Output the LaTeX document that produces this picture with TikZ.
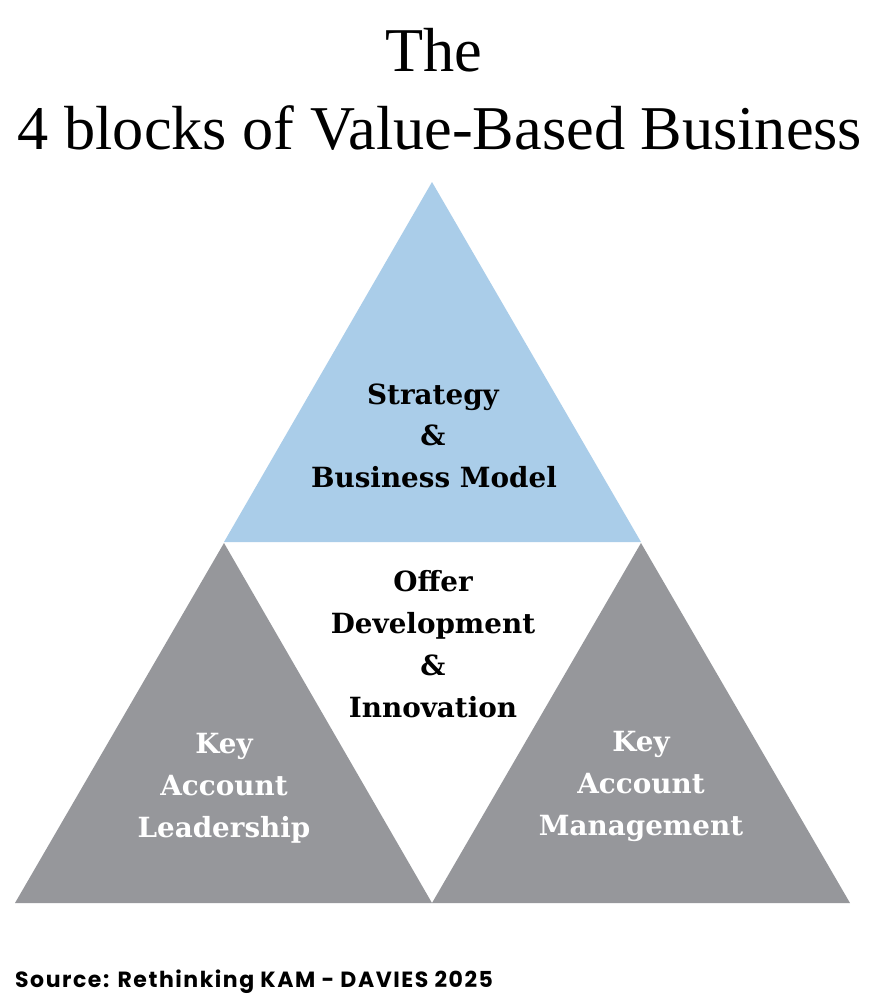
\documentclass[tikz,border=0pt]{standalone}
\usepackage{fontspec}
\setmainfont{Liberation Serif}
\newfontfamily\labelfont{DejaVu Serif}
\newfontfamily\srcfont[LetterSpace=7]{Poppins}
\definecolor{blockblue}{HTML}{AACDE9}
\definecolor{blockgray}{HTML}{96979B}
\begin{document}
\begin{tikzpicture}[x=1pt,y=-1pt,
  titletext/.style={anchor=base,inner sep=0pt,font=\fontsize{62.3}{70}\selectfont},
  darklabel/.style={anchor=base,inner sep=0pt,text=black,font=\labelfont\bfseries\fontsize{27.8}{30}\selectfont},
  lightlabel/.style={darklabel,text=white},
  srctext/.style={anchor=base west,inner sep=0pt,font=\srcfont\bfseries\fontsize{22}{24}\selectfont}]
\useasboundingbox (0,0) rectangle (880,1005);
\fill[white] (0,0) rectangle (880,1005);
% triangles
\fill[blockblue] (224,542) -- (432,182) -- (641,542) -- cycle;
\fill[blockgray] (15,903) -- (224,543) -- (432,903) -- cycle;
\fill[blockgray] (432,903) -- (641,543) -- (850,903) -- cycle;
% title
\node[titletext] (t1) at (434,71) {The};
\node[titletext] (t2) at (440,149) {4 blocks of Value-Based Business};
% top block
\node[darklabel] (s1) at (433,404) {Strategy};
\node[darklabel] (s2) at (433,445) {\&};
\node[darklabel] (s3) at (434,487) {Business Model};
% middle block
\node[darklabel] (o1) at (433,591) {Offer};
\node[darklabel] (o2) at (433,633) {Development};
\node[darklabel] (o3) at (433,675) {\&};
\node[darklabel] (o4) at (433,717) {Innovation};
% left block
\node[lightlabel] (l1) at (224,753) {Key};
\node[lightlabel] (l2) at (224,795) {Account};
\node[lightlabel] (l3) at (224,837) {Leadership};
% right block
\node[lightlabel] (r1) at (641,751) {Key};
\node[lightlabel] (r2) at (641,793) {Account};
\node[lightlabel] (r3) at (641,835) {Management};
% source
\node[srctext] (src) at (15,987) {Source: Rethinking KAM - DAVIES 2025};
\end{tikzpicture}
\end{document}
